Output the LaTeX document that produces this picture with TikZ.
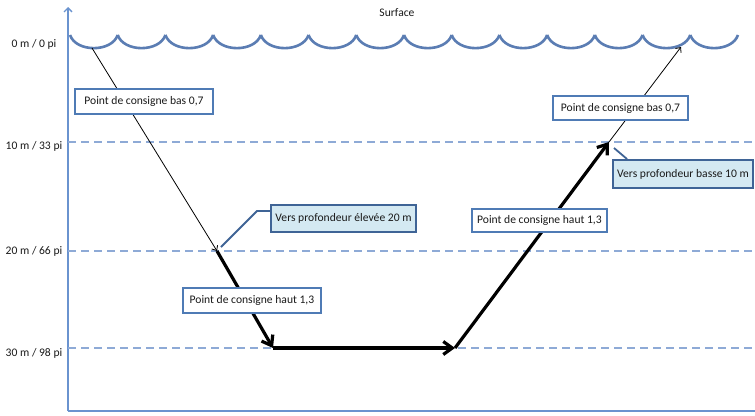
\documentclass[tikz,border=0pt]{standalone}
\usepackage{fontspec}
\setmainfont{Carlito}
\usetikzlibrary{arrows.meta,calc}
\definecolor{wave}{HTML}{5B7DB3}
\definecolor{axisc}{HTML}{6A93CF}
\definecolor{dashc}{HTML}{8EAAD6}
\definecolor{boxb}{HTML}{4F7BB5}
\definecolor{calb}{HTML}{3F6496}
\definecolor{calf}{HTML}{D4E9F2}
\definecolor{txt}{HTML}{1A1A1A}
\tikzset{
  lbl/.style={font=\fontsize{11.6}{14}\selectfont, text=txt, inner sep=0pt},
  wbox/.style={draw=boxb, line width=1.1pt, fill=white, font=\fontsize{11.6}{14}\selectfont, text=txt, inner sep=0pt},
  cbox/.style={draw=calb, line width=1.8pt, fill=calf, font=\fontsize{11.6}{14}\selectfont, text=txt, inner sep=0pt},
  thin path/.style={line width=0.8pt, -{Straight Barb[length=4pt,width=7pt]}},
  thick path/.style={line width=3.2pt, -{Straight Barb[length=9pt,width=13pt]}},
  level/.style={dashc, line width=1.1pt, dash pattern=on 8pt off 5pt},
  callout/.style={calb, line width=1.8pt},
}
\begin{document}
\begin{tikzpicture}[x=1pt,y=-1pt]
\fill[white] (0,0) rectangle (755,415);
\useasboundingbox (0,0) rectangle (755,415);
% axes
\coordinate (o) at (68,411);
\coordinate (ytop) at (68,7);
\coordinate (xend) at (755,411);
\draw[axisc, line width=1.4pt, -{Straight Barb[length=4pt,width=8pt]}] (o) -- (ytop);
\draw[axisc, line width=1.4pt] (o) -- (xend);
% level lines
\foreach \y/\n in {142/a,251/b,348/c}{
  \coordinate (l\n) at (68,\y);
  \coordinate (r\n) at (755,\y);
  \draw[level] (l\n) -- (r\n);
}
% waves
\foreach \i in {0,...,13}{
  \pgfmathsetmacro{\xa}{70+47.714*\i}
  \pgfmathsetmacro{\xb}{70+47.714*(\i+1)}
  \draw[wave, line width=2.6pt] (\xa,35) .. controls (\xa+6,52.5) and (\xb-6,52.5) .. (\xb,35);
}
% labels
\node[lbl] (surf) at (397,13) {Surface};
\node[lbl] (d0) at (34,44) {0 m / 0 pi};
\node[lbl] (d10) at (34,146) {10 m / 33 pi};
\node[lbl] (d20) at (34,251) {20 m / 66 pi};
\node[lbl] (d30) at (34,353) {30 m / 98 pi};
% path
\coordinate (s0) at (92,48);
\coordinate (p1) at (217,251);
\coordinate (p2) at (273,348);
\coordinate (p3) at (455,348);
\coordinate (p4) at (609,142);
\coordinate (s1) at (681,47);
\draw[thin path] (s0) -- (p1);
\draw[thick path] (p1) -- (p2);
\draw[thick path] (p2) -- (p3);
\draw[thick path] (p3) -- (p4);
\draw[thin path] (p4) -- (s1);
% callouts
\coordinate (c1) at (221,247);
\coordinate (c2) at (257,211);
\coordinate (c3) at (614,148);
\node[cbox, minimum width=145pt, minimum height=27pt] (b20) at (343.5,218.5) {Vers profondeur élevée 20 m};
\node[cbox, minimum width=140pt, minimum height=28pt] (b10) at (683,174) {Vers profondeur basse 10 m};
\draw[callout] (c1) -- (c2) -- (c2 -| b20.west);
\draw[callout] (c3) -- ($(b10.north west)+(15,0)$);
% boxes
\node[wbox, minimum width=138pt, minimum height=25pt] (bas1) at (144,101.5) {Point de consigne bas 0,7};
\node[wbox, minimum width=135pt, minimum height=24pt] (bas2) at (620.5,108) {Point de consigne bas 0,7};
\node[wbox, minimum width=138pt, minimum height=25pt] (haut1) at (252,300.5) {Point de consigne haut 1,3};
\node[wbox, minimum width=135pt, minimum height=23pt] (haut2) at (539.5,220.5) {Point de consigne haut 1,3};
\end{tikzpicture}
\end{document}
